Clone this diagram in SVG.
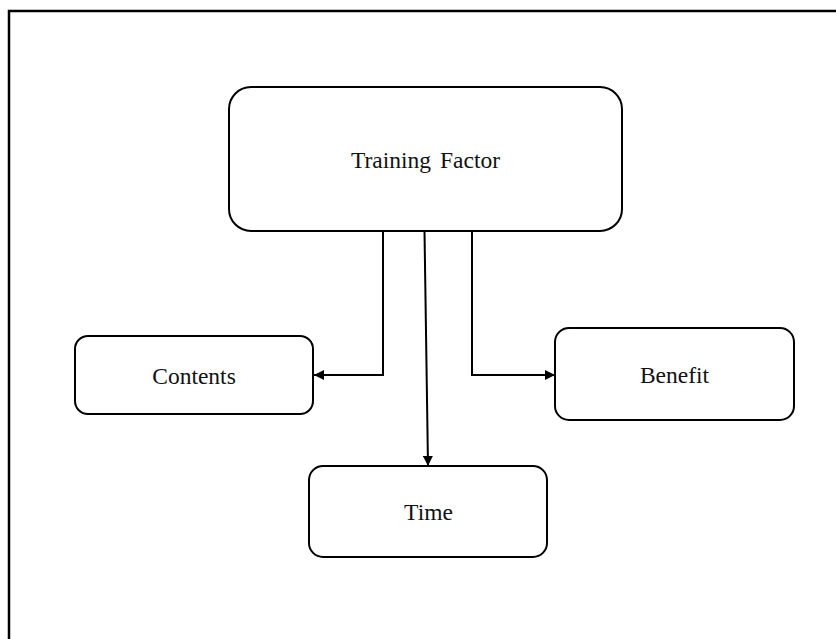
<svg xmlns="http://www.w3.org/2000/svg" width="836" height="639" viewBox="0 0 836 639">
  <style>
    .box { fill: #ffffff; stroke: #000000; stroke-width: 2; }
    .label { font-family: "Liberation Serif", "Times New Roman", serif; font-size: 23.5px; fill: #111111; text-anchor: middle; }
    .link { fill: none; stroke: #000000; stroke-width: 2; }
  </style>
  <defs>
    <marker id="arrow" viewBox="0 0 10 10" refX="10" refY="5" markerWidth="11" markerHeight="10" markerUnits="userSpaceOnUse" orient="auto">
      <path d="M0,0 L10,5 L0,10 Z" fill="#000000"/>
    </marker>
  </defs>

  <rect width="836" height="639" fill="#ffffff"/>
  <!-- page frame -->
  <path d="M9,639 L9,11 L836,11" fill="none" stroke="#000000" stroke-width="2.5"/>

  <g id="connectors">
    <path class="link" d="M383,231 L383,375 L314,375" marker-end="url(#arrow)"/>
    <path class="link" d="M424.5,231 L428,466" marker-end="url(#arrow)"/>
    <path class="link" d="M472,231 L472,375 L555,375" marker-end="url(#arrow)"/>
  </g>

  <g id="training-factor">
    <rect class="box" x="229" y="87" width="393" height="144" rx="22" ry="22"/>
    <text class="label" x="425.5" y="168">Training<tspan dx="9">Factor</tspan></text>
  </g>

  <g id="contents">
    <rect class="box" x="75" y="336" width="238" height="78" rx="13" ry="13"/>
    <text class="label" x="194" y="384">Contents</text>
  </g>

  <g id="benefit">
    <rect class="box" x="555" y="328" width="239" height="92" rx="14" ry="14"/>
    <text class="label" x="674.5" y="383">Benefit</text>
  </g>

  <g id="time">
    <rect class="box" x="309" y="466" width="238" height="91" rx="14" ry="14"/>
    <text class="label" x="428.5" y="520">Time</text>
  </g>
</svg>
